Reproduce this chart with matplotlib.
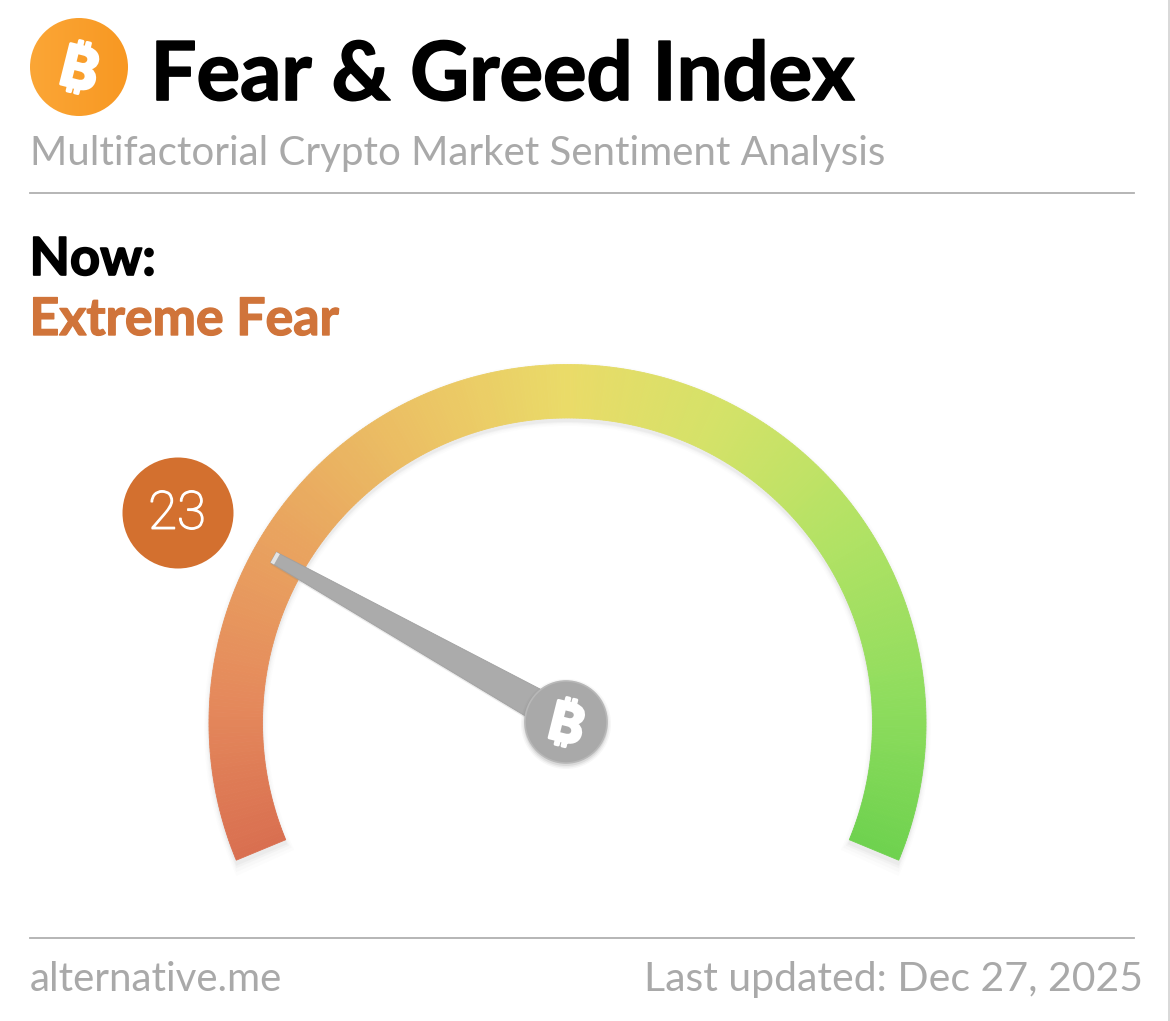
import numpy as np
import matplotlib
matplotlib.use("Agg")
import matplotlib.pyplot as plt
import matplotlib.patheffects as pe
from matplotlib import font_manager as fm
from matplotlib.ft2font import FT2Font
from matplotlib.patches import Wedge, Circle, Polygon, Rectangle
from matplotlib.colors import LinearSegmentedColormap

TITLE = "Fear & Greed Index"
SUBTITLE = "Multifactorial Crypto Market Sentiment Analysis"
NOW_LABEL = "Now:"
CLASSIFICATION = "Extreme Fear"
VALUE = 23
SCALE_MIN = 0
SCALE_MAX = 100
SOURCE = "alternative.me"
UPDATED = "Last updated: Dec 27, 2025"
BITCOIN = "\u20bf"

STOP_POS = [0.0, 0.12, 0.25, 0.38, 0.5, 0.62, 0.75, 0.88, 1.0]
STOP_COL = ["#D96F50", "#E58A5C", "#E9A45F", "#EBC264", "#EADB68",
            "#D4E268", "#B2E264", "#90DD5E", "#6FD24F"]

W, H = 1170, 1021
fig = plt.figure(figsize=(W / 100, H / 100), dpi=100, facecolor="white")
ax = fig.add_axes([0, 0, 1, 1])
ax.set_xlim(0, W)
ax.set_ylim(H, 0)
ax.axis("off")
FONT = ["Lato", "DejaVu Sans"]


def family_with(ch, names):
    for name in names:
        try:
            path = fm.findfont(fm.FontProperties(family=name, weight="bold"), fallback_to_default=False)
            if FT2Font(path).get_char_index(ord(ch)):
                return name
        except Exception:
            continue
    return None


BTC_FAMILY = family_with(BITCOIN, ["Inter", "Noto Sans", "Roboto", "Open Sans", "Lato",
                                   "Liberation Sans", "Noto Sans CJK SC"]) or "DejaVu Sans"

CX, CY = 567.5, 723
R_OUT, R_IN = 358.5, 305
A0, SWEEP = 202.5, 225.0


def ang(v):
    return A0 - (v - SCALE_MIN) / (SCALE_MAX - SCALE_MIN) * SWEEP


# y axis is inverted, so Wedge angles are mirrored: theta = -angle
def arc(v0, v1, r_out, r_in, dx=0, dy=0, **kw):
    a0, a1 = ang(v0), ang(v1)
    return Wedge((CX + dx, CY + dy), r_out, -a0, -a1, width=r_out - r_in, **kw)


# soft shadow
for grow, alpha in [(5, 0.015), (3.5, 0.02), (2, 0.03), (1, 0.04)]:
    ax.add_patch(arc(-grow / 6, 100 + grow / 6, R_OUT + grow, R_IN - grow, dy=3,
                     fc="#555555", ec="none", alpha=alpha, zorder=1))

cmap = LinearSegmentedColormap.from_list("gauge", list(zip(STOP_POS, STOP_COL)))
n = 400
edges = np.linspace(SCALE_MIN, SCALE_MAX, n + 1)
for i in range(n):
    c = cmap((i + 0.5) / n)
    ax.add_patch(arc(edges[i], edges[i + 1], R_OUT, R_IN, fc=c, ec=c, lw=0.6, zorder=2))

# needle
th = np.deg2rad(ang(VALUE))
u = np.array([np.cos(th), -np.sin(th)])
p = np.array([-u[1], u[0]])
c0 = np.array([CX, CY - 1])
tip, base = c0 + u * 337, c0 + u * 20
hw_tip, hw_base = 6, 16
pts = [tip + p * hw_tip, tip - p * hw_tip, base - p * hw_base, base + p * hw_base]
ax.add_patch(Polygon([(x + 0, y + 2) for x, y in pts], fc="#777777", ec="none", alpha=0.15, zorder=3))
ax.add_patch(Polygon(pts, fc="#ABABAB", ec="#A0A0A0", lw=0.6, zorder=4))
ax.add_patch(Polygon([tip + p * hw_tip, tip - p * hw_tip, tip - p * hw_tip + u * -4, tip + p * hw_tip + u * -4],
                     fc="#E4E4E4", ec="none", zorder=5))

# hub
HX, HY = 566, 722
for g, a in [(4, 0.05), (2.5, 0.08), (1, 0.12)]:
    ax.add_patch(Circle((HX, HY + 2), 41 + g, fc="#666666", ec="none", alpha=a, zorder=5))
ax.add_patch(Circle((HX, HY), 41, fc="#A9A9A9", ec="#B8B8B8", lw=1.2, zorder=6))
bold = [pe.withStroke(linewidth=2.2, foreground="white")]
ax.text(HX, HY + 6, BITCOIN, family=BTC_FAMILY, weight="bold", fontsize=38, color="white",
        rotation=-14, ha="center", va="center", zorder=7, path_effects=bold)

# value badge
ax.add_patch(Circle((178, 513), 55.5, fc="#D3702F", ec="none", zorder=6))
ax.text(177, 514, str(VALUE), family="Roboto", weight="light", fontsize=38, color="white",
        ha="center", va="center", zorder=7,
        path_effects=[pe.withStroke(linewidth=1.0, foreground="white")])

# logo
logo_cmap = LinearSegmentedColormap.from_list("logo", ["#FBA636", "#F89822"])
img = ax.imshow(np.linspace(0, 1, 100).reshape(1, -1), cmap=logo_cmap, extent=(30, 128, 116, 18),
                aspect="auto", zorder=2)
ax.set_xlim(0, W)
ax.set_ylim(H, 0)
logo = Circle((79, 67), 49, transform=ax.transData, fc="none", ec="none")
ax.add_patch(logo)
img.set_clip_path(logo)
ax.text(79, 73, BITCOIN, family=BTC_FAMILY, weight="bold", fontsize=41, color="white",
        rotation=-14, ha="center", va="center", zorder=3, path_effects=bold)

# text
heavy = [pe.withStroke(linewidth=1.2, foreground="black")]
ax.text(150.5, 100, TITLE, family=FONT, weight="bold", fontsize=58.6, color="black", va="baseline", path_effects=heavy)
ax.text(29.5, 165, SUBTITLE, family=FONT, fontsize=29, color="#A9A9A9", va="baseline")
ax.text(29.5, 275, NOW_LABEL, family=FONT, weight="bold", fontsize=37.8, color="black", va="baseline", path_effects=heavy)
ax.text(29.5, 335, CLASSIFICATION, family=FONT, weight="bold", fontsize=37.3, color="#D0743A", va="baseline",
        path_effects=[pe.withStroke(linewidth=1.0, foreground="#D0743A")])
ax.text(30, 991, SOURCE, family=FONT, fontsize=29, color="#A9A9A9", va="baseline")
ax.text(1143, 991, UPDATED, family=FONT, fontsize=29.5, color="#A9A9A9", va="baseline", ha="right")

# rules
ax.plot([30, 1134], [193, 193], color="#B0B0B0", lw=1.3, zorder=1)
ax.plot([30, 1134], [938, 938], color="#B0B0B0", lw=1.3, zorder=1)
ax.add_patch(Rectangle((1168, 0), 2, H, fc="#D9D9D9", ec="none", zorder=1))

fig.savefig("out.png", dpi=100, facecolor="white")
